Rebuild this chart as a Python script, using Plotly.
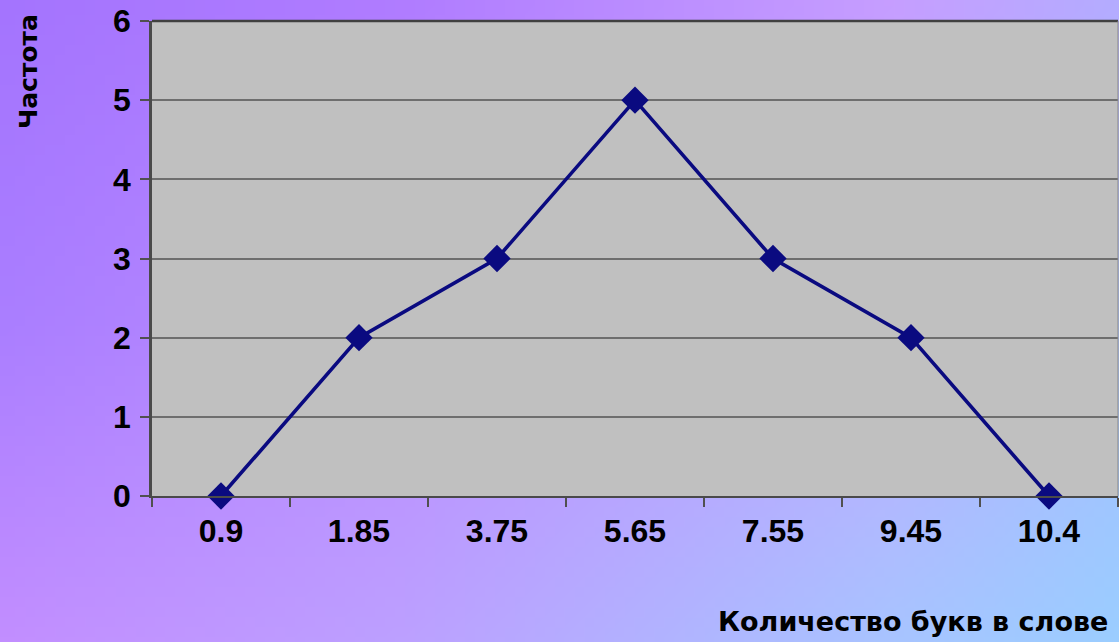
import base64
import struct
import zlib

import plotly.graph_objects as go

# Chart data
categories = ["0.9", "1.85", "3.75", "5.65", "7.55", "9.45", "10.4"]
frequency = [0, 2, 3, 5, 3, 2, 0]
y_ticks = [0, 1, 2, 3, 4, 5, 6]

W, H = 1119, 642
M_L, M_R, M_T, M_B = 152, 1, 21, 146

# Background colour grid (rows top→bottom, columns left→right)
BG_COLS = [0.0, 0.36, 0.8, 1.0]
BG_ROWS = [0.0, 0.5, 1.0]
BG_GRID = [
    [(164, 116, 254), (176, 124, 255), (198, 158, 255), (180, 172, 255)],
    [(170, 126, 255), (186, 140, 255), (190, 170, 255), (165, 190, 255)],
    [(194, 142, 255), (188, 160, 255), (168, 196, 255), (155, 205, 255)],
]


def _seg(stops, t):
    for k in range(len(stops) - 1):
        if stops[k] <= t <= stops[k + 1]:
            return k, (t - stops[k]) / (stops[k + 1] - stops[k])
    return len(stops) - 2, 1.0


def png_uri(w, h, color_at):
    """Encode an RGB image given by color_at(u, v) as a PNG data URI."""
    rows = []
    for j in range(h):
        v = j / (h - 1) if h > 1 else 0
        row = bytearray([0])
        for i in range(w):
            u = i / (w - 1) if w > 1 else 0
            row.extend(color_at(u, v))
        rows.append(bytes(row))
    raw = b"".join(rows)

    def chunk(tag, data):
        body = tag + data
        return struct.pack(">I", len(data)) + body + struct.pack(">I", zlib.crc32(body) & 0xFFFFFFFF)

    png = b"\x89PNG\r\n\x1a\n"
    png += chunk(b"IHDR", struct.pack(">IIBBBBB", w, h, 8, 2, 0, 0, 0))
    png += chunk(b"IDAT", zlib.compress(raw, 9))
    png += chunk(b"IEND", b"")
    return "data:image/png;base64," + base64.b64encode(png).decode()


def bg_color(u, v):
    ci, fu = _seg(BG_COLS, u)
    ri, fv = _seg(BG_ROWS, v)
    out = []
    for c in range(3):
        a = BG_GRID[ri][ci][c] * (1 - fu) + BG_GRID[ri][ci + 1][c] * fu
        b = BG_GRID[ri + 1][ci][c] * (1 - fu) + BG_GRID[ri + 1][ci + 1][c] * fu
        out.append(int(round(a * (1 - fv) + b * fv)))
    return out


bg = png_uri(112, 64, bg_color)
plot_fill = png_uri(2, 2, lambda u, v: (192, 192, 192))

fig = go.Figure()
fig.add_trace(
    go.Scatter(
        x=categories,
        y=frequency,
        mode="lines+markers",
        line=dict(color="#0a0a80", width=3.6),
        marker=dict(symbol="diamond", size=21, color="#0a0a80"),
        cliponaxis=False,
        showlegend=False,
        hoverinfo="skip",
    )
)

pw = W - M_L - M_R
ph = H - M_T - M_B

tick_font = dict(family="Liberation Sans, Arial", size=32, color="#000000", weight="bold")
ytitle_font = dict(family="DejaVu Sans, Noto Sans", size=25, color="#000000", weight="bold")
xtitle_font = dict(family="DejaVu Sans, Noto Sans", size=27, color="#000000", weight="bold")

fig.update_layout(
    width=W,
    height=H,
    margin=dict(l=M_L, r=M_R, t=M_T, b=M_B, pad=0),
    paper_bgcolor="#b49cff",
    plot_bgcolor="#c0c0c0",
    images=[
        dict(
            source=bg,
            xref="paper",
            yref="paper",
            x=-M_L / pw,
            y=1 + M_T / ph,
            sizex=W / pw,
            sizey=H / ph,
            xanchor="left",
            yanchor="top",
            sizing="stretch",
            layer="below",
        ),
        dict(
            source=plot_fill,
            xref="paper",
            yref="paper",
            x=0,
            y=1,
            sizex=1,
            sizey=1,
            xanchor="left",
            yanchor="top",
            sizing="stretch",
            layer="below",
        ),
    ],
    xaxis=dict(
        type="category",
        range=[-0.5, 6.5],
        tickson="boundaries",
        ticks="outside",
        ticklen=9,
        tickwidth=1.5,
        tickcolor="#505050",
        showline=True,
        linecolor="#4a4a4a",
        linewidth=2,
        showgrid=False,
        tickfont=tick_font,
        ticklabelstandoff=6,
        fixedrange=True,
    ),
    yaxis=dict(
        range=[0, 6],
        tickvals=y_ticks,
        ticks="outside",
        ticklen=9,
        tickwidth=1.5,
        tickcolor="#505050",
        showline=True,
        linecolor="#4a4a4a",
        linewidth=2.5,
        showgrid=True,
        gridcolor="#6e6e6e",
        gridwidth=2,
        zeroline=False,
        tickfont=tick_font,
        ticklabelstandoff=3,
        fixedrange=True,
    ),
    annotations=[
        dict(
            text="Частота",
            xref="paper",
            yref="paper",
            x=-(M_L - 28) / pw,
            y=1 + (M_T - 71) / ph,
            xanchor="center",
            yanchor="middle",
            textangle=-90,
            showarrow=False,
            font=ytitle_font,
        ),
        dict(
            text="Количество букв в слове",
            xref="paper",
            yref="paper",
            x=(1110 - M_L) / pw,
            y=-(621 - (H - M_B)) / ph,
            xanchor="right",
            yanchor="middle",
            showarrow=False,
            font=xtitle_font,
        ),
    ],
    shapes=[
        dict(
            type="line",
            xref="paper",
            yref="paper",
            x0=0,
            x1=1,
            y0=1,
            y1=1,
            line=dict(color="#404040", width=2.5),
        ),
        dict(
            type="line",
            xref="paper",
            yref="paper",
            x0=1,
            x1=1,
            y0=0,
            y1=1,
            line=dict(color="#8a8a8a", width=1),
        ),
    ],
)

fig.write_html("out.html")
